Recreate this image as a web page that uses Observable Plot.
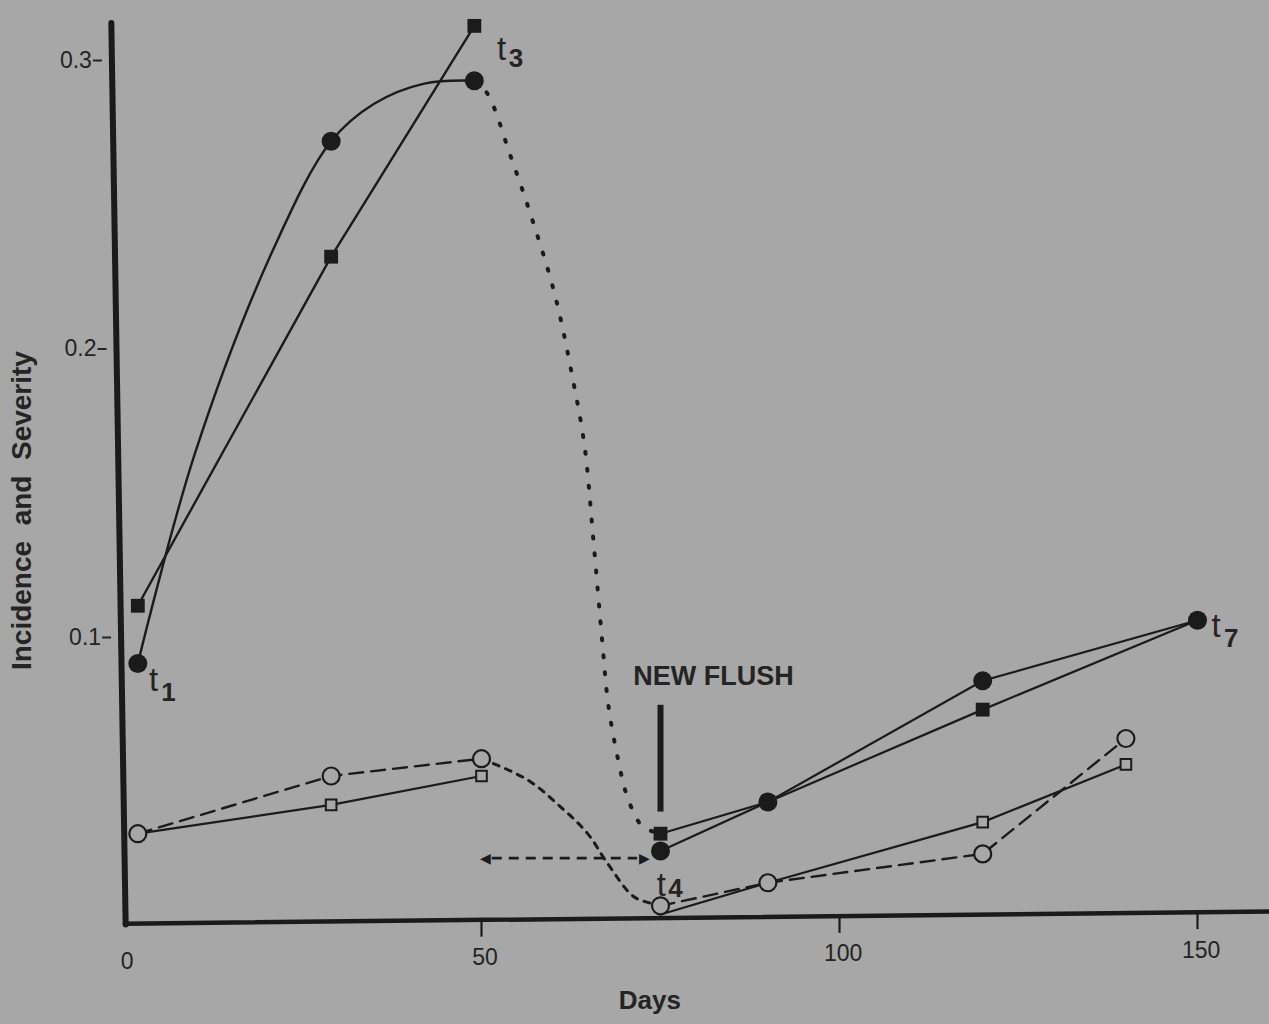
<!DOCTYPE html>
<html><head><meta charset="utf-8">
<script src="https://cdn.jsdelivr.net/npm/d3@7"></script>
<script src="https://cdn.jsdelivr.net/npm/@observablehq/plot@0.6"></script>
<style>html,body{margin:0;padding:0;background:#a7a7a7;} #chart svg{display:block}</style>
</head><body><div id="chart"></div>
<script>
// ---- data ----
const filledDays = [2, 29, 49, 75, 90, 120, 150];
const filledCircleValues = [0.091, 0.272, 0.293, 0.026, 0.043, 0.085, 0.106];
const filledSquareValues = [0.111, 0.232, 0.312, 0.032, 0.043, 0.075, 0.106];
const openDays = [2, 29, 50, 75, 90, 120, 140];
const openCircleValues = [0.032, 0.052, 0.058, 0.007, 0.015, 0.025, 0.065];
const openSquareValues = [0.032, 0.042, 0.052, 0.004, 0.015, 0.036, 0.056];
// hand-drawn curves
const circleRiseDays = [2, 10, 21, 29, 35, 42, 49];
const circleRiseValues = [0.091, 0.164, 0.235, 0.272, 0.285, 0.292, 0.293];
const declineDays = [49, 50.8, 54.1, 57.1, 60.3, 62.8, 64.4, 65.6, 66.9, 67.7, 69.0, 70.5, 72.5, 75];
const declineValues = [0.293, 0.2886, 0.2666, 0.2448, 0.2183, 0.189, 0.1662, 0.1345, 0.0976, 0.0769, 0.0586, 0.0438, 0.0345, 0.032];
const openDeclineDays = [50, 56.4, 61.0, 64.8, 67.6, 71.2, 73.6, 75];
const openDeclineValues = [0.058, 0.0507, 0.0414, 0.0321, 0.0217, 0.0103, 0.0079, 0.007];
// axes
const xTicks = [0, 50, 100, 150];
const xTickLabels = ["0", "50", "100", "150"];
const yTicks = [0.1, 0.2, 0.3];
const yTickLabels = ["0.1", "0.2", "0.3"];
// annotations
const tSubs = ["1", "3", "4", "7"];
const tDays = [4.2, 52.8, 75.1, 152.6];
const tValues = [0.0851, 0.3038, 0.0140, 0.1038];
const subDays = [6.3, 54.8, 77.1, 154.7];
const subValues = [0.0809, 0.3007, 0.0130, 0.0997];
const flushDay = 75, flushTop = 0.0765, flushBottom = 0.0395;
const shiftArrowFrom = 50.5, shiftArrowTo = 72.8, shiftArrowValue = 0.0235;

const rows = (d, v) => d.map((x, i) => ({day: x, value: v[i]}));
const fc = rows(filledDays, filledCircleValues);
const fs = rows(filledDays, filledSquareValues);
const oc = rows(openDays, openCircleValues);
const os = rows(openDays, openSquareValues);
const rise = rows(circleRiseDays, circleRiseValues);
const decline = rows(declineDays, declineValues);
const openDecline = rows(openDeclineDays, openDeclineValues);

const BG = "#a7a7a7", INK = "#1b1b1b", TXT = "#242424";
const FONT = "'Liberation Sans', Arial, Helvetica, sans-serif";
// axis geometry (the scanned axes lean slightly)
const yAxisTop = {day: -1.7, value: 0.313}, yAxisBottom = {day: 0.3, value: 0.0005};
const xAxisLeft = {day: 0.2, value: 0.0008}, xAxisRight = {day: 160, value: 0.005};
const yAxisDayAt = v => yAxisBottom.day + (yAxisTop.day - yAxisBottom.day) * (v - yAxisBottom.value) / (yAxisTop.value - yAxisBottom.value);
const xAxisValueAt = d => xAxisLeft.value + (xAxisRight.value - xAxisLeft.value) * (d - xAxisLeft.day) / (xAxisRight.day - xAxisLeft.day);
const PX = 1 / 7.16; // days per pixel

const chart = Plot.plot({
  width: 1269, height: 1024, margin: 0,
  style: {background: BG, fontFamily: FONT},
  x: {domain: [0, 160], range: [123, 123 + 160 * 7.16], axis: null},
  y: {domain: [0, 0.3], range: [925.5, 60], axis: null},
  marks: [
    // axes
    Plot.line([yAxisTop, yAxisBottom], {x: "day", y: "value", stroke: INK, strokeWidth: 6}),
    Plot.line([xAxisLeft, xAxisRight], {x: "day", y: "value", stroke: INK, strokeWidth: 4.5}),
    Plot.link(xTicks.slice(1), {x1: d => d, x2: d => d, y1: d => xAxisValueAt(d), y2: d => xAxisValueAt(d) - 0.0058, stroke: INK, strokeWidth: 2.2}),
    Plot.text(xTicks, {x: d => d + 0.5, y: d => xAxisValueAt(d), dy: 38, text: (d, i) => xTickLabels[i], fontSize: 23, fill: TXT}),
    Plot.link(yTicks, {x1: d => yAxisDayAt(d) - 19 * PX, x2: d => yAxisDayAt(d) - 10 * PX, y1: d => d, y2: d => d, stroke: TXT, strokeWidth: 2}),
    Plot.text(yTicks, {x: d => yAxisDayAt(d) - 20 * PX, y: d => d, text: (d, i) => yTickLabels[i], textAnchor: "end", fontSize: 23, fill: TXT}),
    Plot.text(["Incidence  and  Severity"], {x: -14.2, y: 0.144, rotate: -90, fontSize: 28, fontWeight: "bold", fill: TXT, style: "letter-spacing:1.5px;white-space:pre"}),
    Plot.text(["Days"], {x: 73.5, y: 0, dy: 75, fontSize: 26, fontWeight: "bold", fill: TXT, style: "letter-spacing:1.5px"}),

    // filled circles
    Plot.line(rise, {x: "day", y: "value", curve: "catmull-rom", stroke: INK, strokeWidth: 2.4}),
    Plot.line(decline, {x: "day", y: "value", curve: "catmull-rom", stroke: INK, strokeWidth: 4, strokeDasharray: "2,15", strokeLinecap: "round"}),
    Plot.line(fc.slice(3), {x: "day", y: "value", stroke: INK, strokeWidth: 2.2}),
    // filled squares
    Plot.line(fs.slice(0, 3), {x: "day", y: "value", stroke: INK, strokeWidth: 2.4}),
    Plot.line(fs.slice(3), {x: "day", y: "value", stroke: INK, strokeWidth: 2.2}),
    // open circles (dashed)
    Plot.line(oc.slice(0, 3), {x: "day", y: "value", stroke: INK, strokeWidth: 2.4, strokeDasharray: "14,8"}),
    Plot.line(openDecline, {x: "day", y: "value", curve: "catmull-rom", stroke: INK, strokeWidth: 3, strokeDasharray: "6,7"}),
    Plot.line(oc.slice(3), {x: "day", y: "value", stroke: INK, strokeWidth: 2.4, strokeDasharray: "14,8"}),
    // open squares (solid)
    Plot.line(os.slice(0, 3), {x: "day", y: "value", stroke: INK, strokeWidth: 2.2}),
    Plot.line(os.slice(3), {x: "day", y: "value", stroke: INK, strokeWidth: 2.2}),

    // new flush marker and shift arrow
    Plot.ruleX([flushDay], {y1: flushBottom, y2: flushTop, stroke: INK, strokeWidth: 6}),
    Plot.text(["NEW FLUSH"], {x: 71.2, y: 0.0865, textAnchor: "start", fontSize: 27, fontWeight: "bold", fill: TXT, style: "letter-spacing:2.6px"}),
    Plot.ruleY([shiftArrowValue], {x1: shiftArrowFrom + 1, x2: shiftArrowTo - 1, stroke: INK, strokeWidth: 2.8, strokeDasharray: "10,7"}),
    Plot.text(["\u25C0"], {x: shiftArrowFrom, y: shiftArrowValue, fontSize: 14, fill: INK}),
    Plot.text(["\u25B6"], {x: shiftArrowTo, y: shiftArrowValue, fontSize: 14, fill: INK}),

    // markers
    Plot.dot(os.filter(d => d.day !== 75), {x: "day", y: "value", symbol: "square", r: 6, fill: BG, stroke: INK, strokeWidth: 2}),
    Plot.dot(oc, {x: "day", y: "value", symbol: "circle", r: 8.5, fill: BG, stroke: INK, strokeWidth: 2.2}),
    Plot.dot(fs, {x: "day", y: "value", symbol: "square", r: 7.8, fill: INK}),
    Plot.dot(fc, {x: "day", y: "value", symbol: "circle", r: 9.5, fill: INK}),

    // t labels
    Plot.text(tSubs, {x: (d, i) => tDays[i], y: (d, i) => tValues[i], text: () => "t", fontSize: 33, fill: TXT}),
    Plot.text(tSubs, {x: (d, i) => subDays[i], y: (d, i) => subValues[i], text: d => d, fontSize: 26, fontWeight: "bold", fill: TXT})
  ]
});
document.getElementById("chart").append(chart);
</script>
</body></html>
